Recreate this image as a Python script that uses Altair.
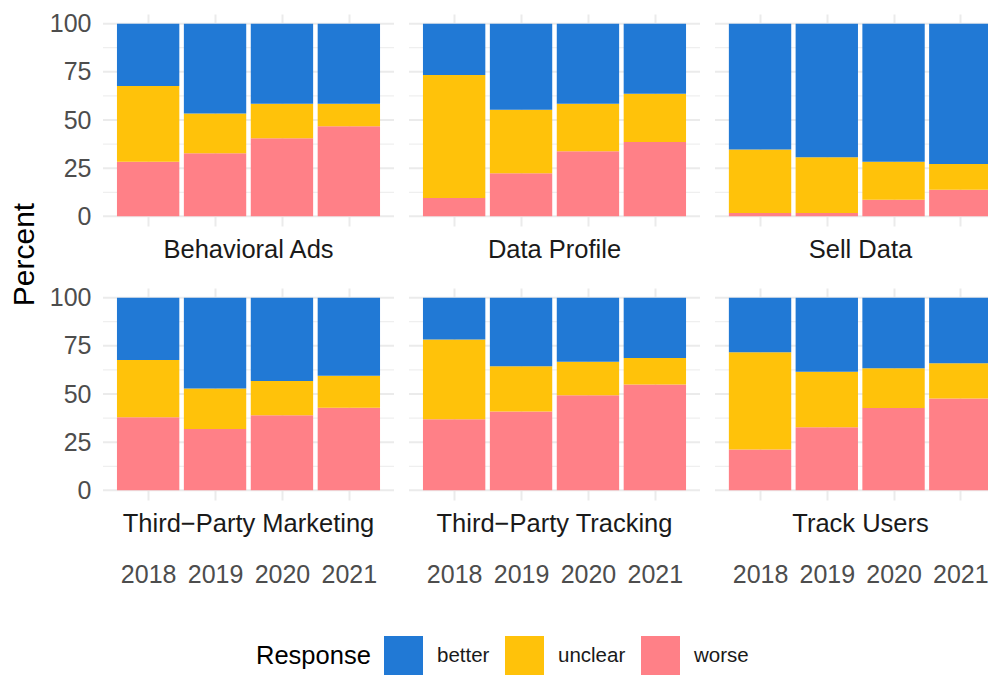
import altair as alt
import pandas as pd

years = [2018, 2019, 2020, 2021]
panels = ["Behavioral Ads", "Data Profile", "Sell Data",
          "Third\u2212Party Marketing", "Third\u2212Party Tracking", "Track Users"]
responses = ["better", "unclear", "worse"]
colors = ["#2179D5", "#FFC20A", "#FF8087"]

# Percent values per panel, years 2018-2021
worse = [
    [28.3, 32.8, 40.5, 46.7],
    [9.5, 22.4, 33.8, 38.6],
    [1.7, 1.7, 8.6, 13.8],
    [37.9, 31.8, 39.0, 42.9],
    [36.9, 40.9, 49.4, 54.9],
    [21.2, 32.8, 42.7, 47.7],
]
unclear = [
    [39.3, 20.6, 17.9, 11.7],
    [63.8, 32.9, 24.6, 25.0],
    [33.0, 29.0, 19.8, 13.4],
    [29.8, 21.0, 17.8, 16.6],
    [41.4, 23.5, 17.3, 13.8],
    [50.4, 28.7, 20.7, 18.3],
]
better = [
    [32.4, 46.6, 41.6, 41.6],
    [26.7, 44.7, 41.6, 36.4],
    [65.3, 69.3, 71.6, 72.8],
    [32.3, 47.2, 43.2, 40.5],
    [21.7, 35.6, 33.3, 31.3],
    [28.4, 38.5, 36.6, 34.0],
]
y_ticks = [0, 25, 50, 75, 100]
minor_ticks = [12.5, 37.5, 62.5, 87.5]

rows = []
for p, name in enumerate(panels):
    for j, yr in enumerate(years):
        for resp, vals, k in (("worse", worse, 0), ("unclear", unclear, 1), ("better", better, 2)):
            rows.append({"panel": name, "year": yr, "response": resp,
                         "value": vals[p][j], "stackorder": k})
df = pd.DataFrame(rows)

W, H = 291, 212
W_LAST = 273
STEP = W / 4.2           # pixels per year, as in ggplot's discrete scale
BAR = 0.9 * STEP
GRID = "#EBEBEB"
FONT = "Liberation Sans"


def make_panel(i):
    name = panels[i]
    col, row = i % 3, i // 3
    w = W if col < 2 else W_LAST
    d = df[df.panel == name]

    x_lo = years[0] - 0.6
    x_hi = x_lo + w / STEP
    xscale = alt.Scale(domain=[x_lo, x_hi], nice=False, zero=False)
    yscale = alt.Scale(domain=[-5, 105], nice=False)

    xaxis = alt.Axis(title=None, values=years, format="d", labels=(row == 1),
                     ticks=False, tickSize=0, domain=False,
                     grid=True, gridColor=GRID, gridWidth=2,
                     labelFontSize=25, labelColor="#4D4D4D", labelPadding=82,
                     labelBaseline="alphabetic", labelAngle=0, labelFont=FONT,
                     labelFlush=False, labelOverlap=False)

    yargs = dict(values=y_ticks, labels=(col == 0), ticks=False, tickSize=0, domain=False,
                 grid=False, labelFontSize=25, labelColor="#4D4D4D", labelPadding=12,
                 labelFont=FONT)
    if i == 0:
        yargs.update(title="Percent", titleFontSize=30, titleFontWeight="normal",
                     titleColor="#000000", titleX=-70, titleY=240, titleAngle=270,
                     titleBaseline="alphabetic", titleAlign="center", titleFont=FONT)
    else:
        yargs.update(title=None)
    yaxis = alt.Axis(**yargs)

    minor = alt.Chart(pd.DataFrame({"v": minor_ticks})).mark_rule(
        color=GRID, strokeWidth=1
    ).encode(y=alt.Y("v:Q", scale=yscale, axis=yaxis))

    major = alt.Chart(pd.DataFrame({"v": y_ticks})).mark_rule(
        color=GRID, strokeWidth=2
    ).encode(y=alt.Y("v:Q", scale=yscale, axis=yaxis))

    bars = alt.Chart(d).mark_bar(size=BAR, clip=(col == 2)).encode(
        x=alt.X("year:Q", scale=xscale, axis=xaxis),
        y=alt.Y("value:Q", stack="zero", scale=yscale, axis=yaxis),
        color=alt.Color("response:N",
                        scale=alt.Scale(domain=responses, range=colors),
                        legend=alt.Legend(title="Response", orient="none",
                                          legendX=153, legendY=622,
                                          direction="horizontal", titleOrient="left",
                                          titleFontSize=25.5, titleFontWeight="normal",
                                          titleColor="#000000", titleFont=FONT,
                                          titleBaseline="middle", titleAnchor="middle",
                                          titlePadding=13,
                                          labelFontSize=20.5, labelColor="#1A1A1A", labelFont=FONT,
                                          labelOffset=14, columnPadding=15,
                                          symbolType="square", symbolSize=1521,
                                          symbolStrokeWidth=0, symbolOpacity=1, padding=0)),
        order=alt.Order("stackorder:Q", sort="ascending"),
    )

    strip = alt.Chart(pd.DataFrame({"label": [name]})).mark_text(
        baseline="alphabetic", align="center", fontSize=25.5, color="#1A1A1A", font=FONT
    ).encode(text="label:N", x=alt.value(W / 2), y=alt.value(H + 32))

    return alt.layer(minor, major, bars, strip).properties(width=w, height=H)


chart = alt.concat(*[make_panel(i) for i in range(6)], columns=3,
                   spacing={"row": 62, "column": 15}, bounds="flush").properties(
    padding={"left": 1, "top": 3, "right": 0, "bottom": 0},
    background="white",
).configure(font=FONT).configure_view(stroke=None)

chart.save("out.html", embed_options={"renderer": "svg", "actions": False})
